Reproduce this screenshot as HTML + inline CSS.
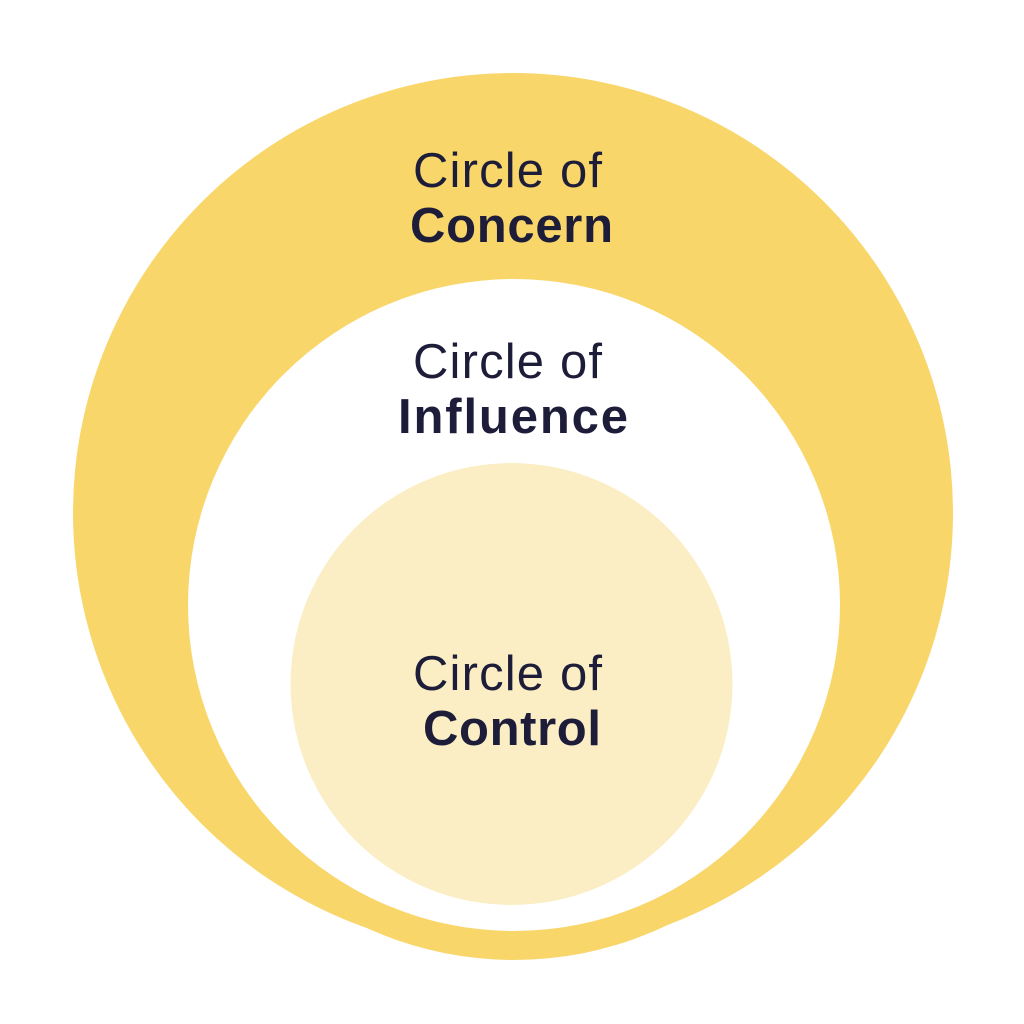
<!DOCTYPE html>
<html>
<head>
<meta charset="utf-8">
<style>
  html,body{margin:0;padding:0;background:#ffffff;}
  svg{display:block;}
  .lt{font-family:"Liberation Sans",sans-serif;font-weight:normal;font-size:49px;fill:#1e1d39;}
  .bd{font-family:"Liberation Sans",sans-serif;font-weight:bold;font-size:49px;fill:#1e1d39;}
</style>
</head>
<body>
<svg width="1024" height="1024" viewBox="0 0 1024 1024" xmlns="http://www.w3.org/2000/svg">
  <rect width="1024" height="1024" fill="#ffffff"/>
  <!-- outer circle of concern -->
  <circle cx="513" cy="513" r="440" fill="#f8d66a"/>
  <!-- ring around influence circle extending beyond at bottom -->
  <circle cx="514" cy="606" r="354" fill="#f8d66a"/>
  <!-- circle of influence -->
  <circle cx="514" cy="605" r="326" fill="#ffffff"/>
  <!-- circle of control -->
  <circle cx="511.5" cy="684" r="221" fill="#fbeec4"/>

  <text class="lt" x="413" y="187" textLength="189" lengthAdjust="spacing">Circle of</text>
  <text class="bd" x="410" y="242" textLength="203" lengthAdjust="spacing">Concern</text>

  <text class="lt" x="413" y="378" textLength="189" lengthAdjust="spacing">Circle of</text>
  <text class="bd" x="398" y="433" textLength="230" lengthAdjust="spacing">Influence</text>

  <text class="lt" x="413" y="690" textLength="189" lengthAdjust="spacing">Circle of</text>
  <text class="bd" x="423" y="745" textLength="178" lengthAdjust="spacing">Control</text>
</svg>
</body>
</html>
